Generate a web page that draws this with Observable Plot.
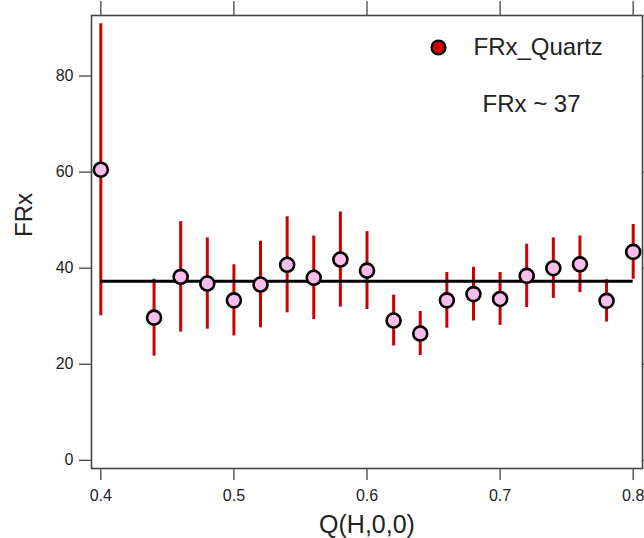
<!DOCTYPE html>
<html>
<head>
<meta charset="utf-8">
<script src="https://cdn.jsdelivr.net/npm/d3@7"></script>
<script src="https://cdn.jsdelivr.net/npm/@observablehq/plot@0.6"></script>
<style>
  html, body { margin: 0; padding: 0; background: #fff; }
  #chart { width: 644px; height: 538px; overflow: hidden; }
</style>
</head>
<body>
<div id="chart"></div>
<script>
// ---- data ----
const q   = [0.40, 0.44, 0.46, 0.48, 0.50, 0.52, 0.54, 0.56, 0.58, 0.60, 0.62, 0.64, 0.66, 0.68, 0.70, 0.72, 0.74, 0.76, 0.78, 0.80];
const frx = [60.5, 29.7, 38.2, 36.8, 33.3, 36.6, 40.7, 38.0, 41.8, 39.5, 29.1, 26.4, 33.3, 34.6, 33.6, 38.4, 40.0, 40.8, 33.2, 43.4];
const err = [30.4, 8.0, 11.5, 9.5, 7.4, 9.0, 10.0, 8.7, 9.9, 8.1, 5.3, 4.6, 5.8, 5.6, 5.5, 6.6, 6.3, 5.9, 4.4, 5.7];
const fitValue = 37.3;
const seriesName = "FRx_Quartz";
const fitLabel = "FRx ~ 37";
const xTicks = [0.4, 0.5, 0.6, 0.7, 0.8];
const yTicks = [0, 20, 40, 60, 80];
const xLabel = "Q(H,0,0)";
const yLabel = "FRx";

const data = q.map((x, i) => ({x, y: frx[i], lo: frx[i] - err[i], hi: frx[i] + err[i]}));

const font = "'Liberation Sans', Arial, sans-serif";
const axisColor = "#444";
const textColor = "#222";

const chart = Plot.plot({
  width: 644,
  height: 538,
  marginLeft: 91,
  marginRight: 2,
  marginTop: 15,
  marginBottom: 70,
  style: {fontFamily: font, background: "#fff", color: textColor},
  x: {domain: [0.393, 0.807]},
  y: {domain: [-1.7, 92.6]},
  marks: [
    Plot.axisY({anchor: "left", ticks: yTicks, tickSize: 12, tickPadding: 6, fontSize: 16, stroke: axisColor, strokeWidth: 1.3, fill: textColor, label: null}),
    Plot.axisY({anchor: "right", ticks: yTicks, tickSize: 12, tickFormat: () => "", stroke: axisColor, strokeWidth: 1.3, label: null}),
    Plot.axisX({anchor: "bottom", ticks: xTicks, tickSize: 12, tickPadding: 9, fontSize: 16, stroke: axisColor, strokeWidth: 1.3, fill: textColor, tickFormat: d3.format(".1f"), label: null}),
    Plot.axisX({anchor: "top", ticks: xTicks, tickSize: 15, tickFormat: () => "", stroke: axisColor, strokeWidth: 1.3, label: null}),
    Plot.frame({stroke: axisColor, strokeWidth: 1.6}),
    Plot.ruleX(data, {x: "x", y1: "lo", y2: "hi", stroke: "#cc0000", strokeWidth: 3}),
    Plot.ruleY([fitValue], {x1: d3.min(q), x2: d3.max(q), stroke: "#000", strokeWidth: 3}),
    Plot.dot(data, {x: "x", y: "y", r: 7, fill: "#f8bdea", stroke: "#000", strokeWidth: 2.6}),
    // legend
    Plot.dot([seriesName], {frameAnchor: "top-right", dx: -204, dy: 32, r: 7, fill: "#cc0000", stroke: "#000", strokeWidth: 2.2}),
    Plot.text([seriesName], {text: d => d, frameAnchor: "top-right", dx: -169, dy: 32, textAnchor: "start", lineAnchor: "middle", fontSize: 24, fill: textColor}),
    Plot.text([fitLabel], {text: d => d, frameAnchor: "top-right", dx: -160, dy: 89, textAnchor: "start", lineAnchor: "middle", fontSize: 24, fill: textColor}),
    // axis titles
    Plot.text([xLabel], {text: d => d, frameAnchor: "bottom", dy: 56, lineAnchor: "middle", fontSize: 25, fill: textColor}),
    Plot.text([yLabel], {text: d => d, frameAnchor: "left", dx: -67, dy: -5, rotate: -90, lineAnchor: "middle", fontSize: 24, fill: textColor})
  ]
});
document.getElementById("chart").appendChild(chart);
</script>
</body>
</html>
